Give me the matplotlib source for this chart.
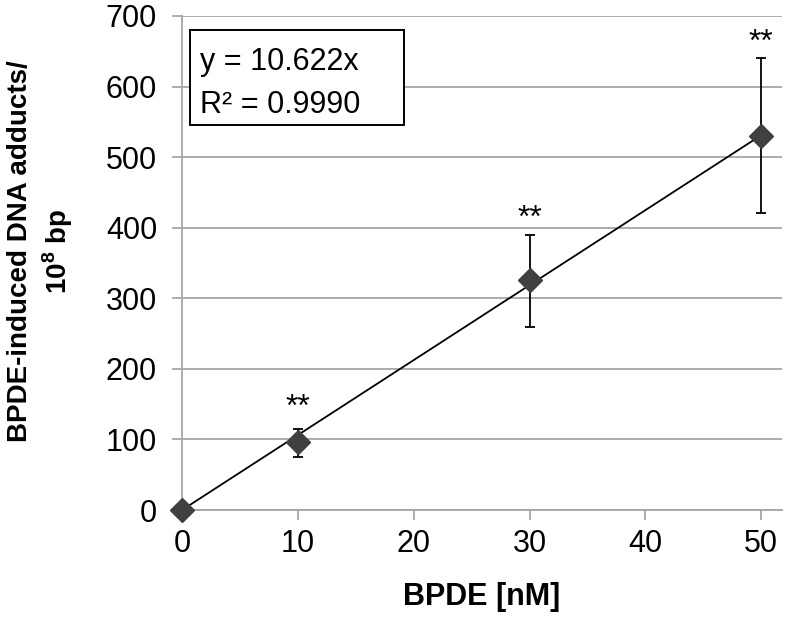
import numpy as np
import matplotlib
matplotlib.use("Agg")
import matplotlib.pyplot as plt
from matplotlib.patches import Rectangle

plt.rcParams['font.family'] = ['Liberation Sans', 'DejaVu Sans']
plt.rcParams['mathtext.fontset'] = 'custom'
plt.rcParams['mathtext.rm'] = 'Liberation Sans'
plt.rcParams['mathtext.bf'] = 'Liberation Sans:bold'

### Data
conc = [0, 10, 30, 50]
adducts = [0, 96, 326, 530]
err_up = [0, 19, 64, 110]
err_down = [0, 21, 67, 109]
stars = ["", "**", "**", "**"]
star_y = [0, 145, 413, 662]
slope = 10.622
r2 = 0.9990
eq_lines = ["y = 10.622x", "R² = 0.9990"]

grid_c = "#a6a6a6"

fig = plt.figure(figsize=(7.86, 6.2), dpi=100)
ax = fig.add_axes([0.2316, 0.1774, 0.7634, 0.7968])

ax.set_xlim(0, 51.8)
ax.set_ylim(0, 700)
ax.set_xticks([0, 10, 20, 30, 40, 50])
ax.set_yticks(np.arange(0, 701, 100))
ax.yaxis.grid(True, color=grid_c, lw=1.3)
ax.set_axisbelow(True)

for s in ["top", "right"]:
    ax.spines[s].set_visible(False)
for s in ["left", "bottom"]:
    ax.spines[s].set_color(grid_c)
    ax.spines[s].set_linewidth(1.3)
ax.tick_params(axis="both", colors=grid_c, labelcolor="black", labelsize=22,
               length=7, width=1.3, direction="out")
ax.tick_params(axis="x", pad=7)
ax.tick_params(axis="y", pad=11)

# trendline
xf = np.linspace(0, 50, 2)
ax.plot(xf, slope * xf, color="black", lw=1.3, zorder=3)

# error bars and markers
ax.errorbar(conc, adducts, yerr=[err_down, err_up], fmt="none", ecolor="black",
            elinewidth=1.3, capsize=3.5, capthick=1.3, zorder=2)
ax.plot(conc, adducts, linestyle="none", marker="D", markersize=12.5,
        color="#404040", zorder=4, clip_on=False)

for xi, yi, st in zip(conc, star_y, stars):
    if st:
        ax.text(xi, yi, st, ha="center", va="center", fontsize=23)

# equation box
ax.add_patch(Rectangle((0.69, 545.5), 18.48, 134.7, fc="white", ec="black",
                       lw=1.4, zorder=5))
ax.text(1.55, 623.5, eq_lines[0], fontsize=22, ha="left", va="baseline", zorder=6)
ax.text(1.55, 562.5, eq_lines[1], fontsize=22, ha="left", va="baseline", zorder=6)

ax.set_xlabel("BPDE [nM]", fontsize=22, fontweight="bold")
ax.xaxis.set_label_coords(0.5, -0.146)
ax.set_ylabel("BPDE-induced DNA adducts/\n10$^{\\mathbf{8}}$ bp", fontsize=20,
              fontweight="bold", linespacing=1.3)
ax.yaxis.set_label_coords(-0.178, 0.524)

fig.savefig("out.png", dpi=100)
